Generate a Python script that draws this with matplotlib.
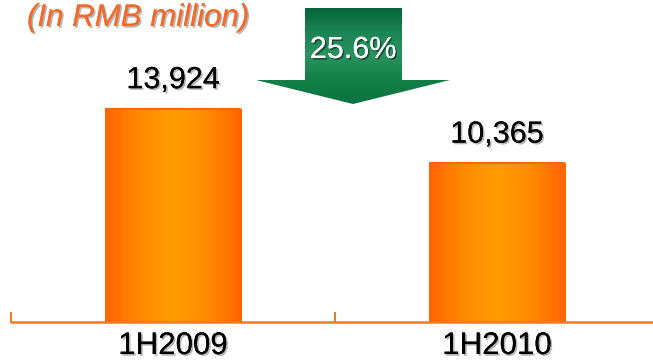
import numpy as np
import matplotlib
matplotlib.use("Agg")
from matplotlib import pyplot as plt
from matplotlib.colors import LinearSegmentedColormap
from matplotlib.patches import Polygon
import matplotlib.patheffects as pe

plt.rcParams['font.family'] = ['Liberation Sans', 'DejaVu Sans']

categories = ["1H2009", "1H2010"]
revenue = [13924, 10365]
change_label = "25.6%"
unit_label = "(In RMB million)"

axis_orange = "#F07A2A"
bar_cmap = LinearSegmentedColormap.from_list(
    "bar", ["#FF6400", "#FF8A00", "#FF9C00", "#FF8A00", "#FF6400"])
arrow_cmap = LinearSegmentedColormap.from_list(
    "arrow", ["#05643A", "#1B8555", "#2A935F", "#137E48", "#0A7440"])

shadow = [pe.withSimplePatchShadow(offset=(1.2, -1.2), shadow_rgbFace="#888888", alpha=0.6),
          pe.Normal()]

W, H = 653, 361
fig = plt.figure(figsize=(W / 100, H / 100), dpi=100)
fig.patch.set_facecolor("white")

# main bar axes, bottom spine is the orange baseline
ax = fig.add_axes([11 / W, 39 / H, (W - 11) / W, 322 / H])
ax.set_xlim(-0.5, 1.4815)
ax.set_ylim(0, 21050)
ax.patch.set_alpha(0)

x = np.arange(len(categories))
bars = ax.bar(x, revenue, width=0.42, color="none", edgecolor="none", zorder=2)

grad = np.linspace(0, 1, 256).reshape(1, -1)
for b, v in zip(bars, revenue):
    x0, w = b.get_x(), b.get_width()
    im = ax.imshow(grad, cmap=bar_cmap, aspect="auto",
                   extent=(x0, x0 + w, 0, v), zorder=2)
    im.set_clip_path(b)
    # thin darker rim at the top of each bar
    ax.plot([x0, x0 + w], [v, v], color="#F06A10", lw=1.5, zorder=3,
            solid_capstyle="butt")
    ax.annotate(f"{v:,}", xy=(b.get_x() + w / 2, v), xytext=(0, 15),
                textcoords="offset points", ha="center", va="baseline",
                fontsize=22, color="black", path_effects=shadow,
                annotation_clip=False)

for s in ["top", "left", "right"]:
    ax.spines[s].set_visible(False)
ax.spines["bottom"].set_color(axis_orange)
ax.spines["bottom"].set_linewidth(1.8)
ax.set_yticks([])
ax.set_xticks([-0.5, 0.5])
ax.set_xticklabels([])
ax.tick_params(axis="x", which="major", direction="in", length=7,
               width=1.5, color=axis_orange)
ax.set_xticks(x, minor=True)
ax.set_xticklabels(categories, minor=True, fontsize=22.5)
ax.tick_params(axis="x", which="minor", length=0, pad=6.5)
for lbl in ax.get_xticklabels(minor=True):
    lbl.set_path_effects(shadow)

# overlay in pixel coordinates for the unit label and the change arrow
ov = fig.add_axes([0, 0, 1, 1])
ov.set_xlim(0, W)
ov.set_ylim(H, 0)
ov.axis("off")
ov.patch.set_alpha(0)

ov.text(27, 18, unit_label, fontsize=22.5, style="italic", color="#F26A2C",
        ha="left", va="center", path_effects=shadow)

arrow_pts = [(305, 8), (402, 8), (402, 80), (450, 80), (353, 104),
             (256, 80), (305, 80)]
arrow = Polygon(arrow_pts, closed=True, facecolor="none", edgecolor="none")
ov.add_patch(arrow)
vgrad = np.linspace(0, 1, 256).reshape(-1, 1)
aim = ov.imshow(vgrad, cmap=arrow_cmap, aspect="auto",
                extent=(256, 450, 104, 8), zorder=2)
aim.set_clip_path(arrow)
ov.text(353, 50, change_label, fontsize=22, color="white", ha="center",
        va="center", zorder=3,
        path_effects=[pe.withSimplePatchShadow(offset=(1.2, -1.2),
                                               shadow_rgbFace="#0B3A20", alpha=0.7),
                      pe.Normal()])

fig.savefig("out.png", dpi=100)
